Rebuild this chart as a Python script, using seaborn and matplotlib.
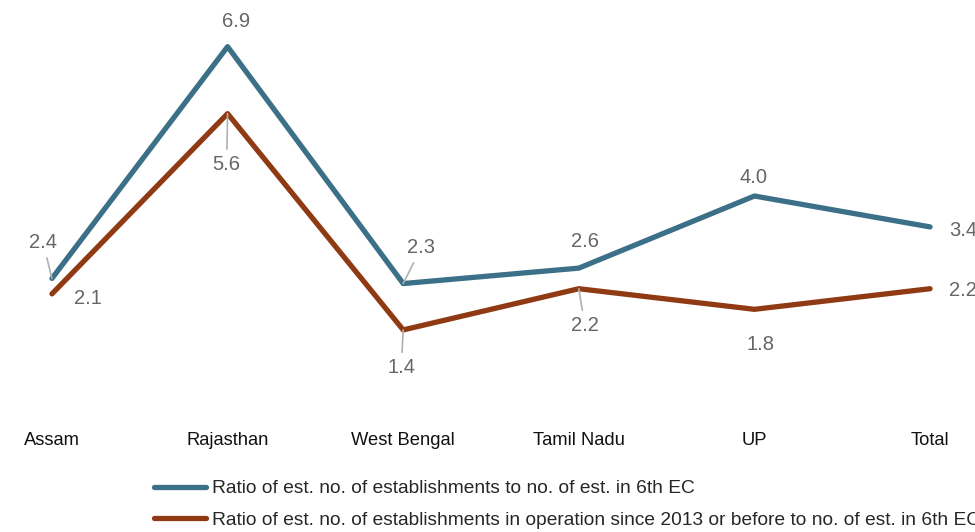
import numpy as np
import pandas as pd
import matplotlib
matplotlib.use("Agg")
import matplotlib.pyplot as plt
import seaborn as sns

states = ["Assam", "Rajasthan", "West Bengal", "Tamil Nadu", "UP", "Total"]
ratio_all = [2.4, 6.9, 2.3, 2.6, 4.0, 3.4]
ratio_2013 = [2.1, 5.6, 1.4, 2.2, 1.8, 2.2]
series_names = [
    "Ratio of est. no. of establishments to no. of est. in 6th EC",
    "Ratio of est. no. of establishments in operation since 2013 or before to no. of est. in 6th EC",
]
colors = ["#3b7088", "#8f3a13"]

# offset (pixels) dei valori e se disegnare la linea guida
off_all = [(-9, 36, True), (8, 25, False), (18, 36, True), (6, 27, False), (-1, 19, False), (33, -4, False)]
off_2013 = [(36, -5, False), (-1, -51, True), (-2, -38, True), (6, -37, True), (6, -35, False), (33, -2, False)]

df = pd.DataFrame({
    "state": states * 2,
    "value": ratio_all + ratio_2013,
    "serie": [series_names[0]] * 6 + [series_names[1]] * 6,
})

sns.set_style("white")
plt.rcParams["font.family"] = ["Liberation Sans", "DejaVu Sans"]

fig = plt.figure(figsize=(9.75, 5.32), dpi=100)
ax = fig.add_axes([0, 117 / 532, 1, 415 / 532])

sns.lineplot(data=df, x="state", y="value", hue="serie", palette=colors,
             linewidth=3.8, legend=False, ax=ax, sort=False)

ax.set_xlim(-0.296, 5.256)
ax.set_ylim(-0.252, 7.806)
for s in ax.spines.values():
    s.set_visible(False)
ax.set_yticks([])
ax.set_xlabel("")
ax.set_ylabel("")
ax.set_xticks(range(len(states)))
ax.set_xticklabels(states, fontsize=13.2, color="#111111")
ax.tick_params(axis="x", length=0, pad=12)

for vals, offs in [(ratio_all, off_all), (ratio_2013, off_2013)]:
    for i, (v, (dx, dy, lead)) in enumerate(zip(vals, offs)):
        ax.annotate(f"{v:.1f}", xy=(i, v), xytext=(dx, dy), textcoords="offset pixels",
                    ha="center", va="center", fontsize=14.5, color="#666666",
                    arrowprops=dict(arrowstyle="-", color="#b0b0b0", lw=1.2,
                                    shrinkA=2, shrinkB=0) if lead else None)

handles = [plt.Line2D([], [], color=c, linewidth=3.8) for c in colors]
fig.legend(handles, series_names, loc="upper left", bbox_to_anchor=(154 / 975, 1 - 480 / 532),
           frameon=False, fontsize=13.8, handlelength=2.7, handletextpad=0.3,
           labelspacing=0.75, borderaxespad=0, borderpad=0)

fig.savefig("out.png", dpi=100)
